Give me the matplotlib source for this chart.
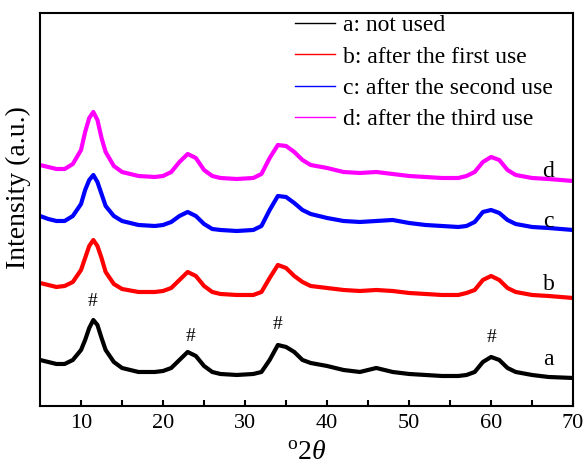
import numpy as np
import matplotlib
matplotlib.use("Agg")
import matplotlib.pyplot as plt

plt.rcParams['font.family'] = ['Liberation Serif', 'DejaVu Serif']
plt.rcParams['mathtext.fontset'] = 'custom'
plt.rcParams['mathtext.rm'] = 'Liberation Serif'
plt.rcParams['mathtext.it'] = 'Liberation Serif:italic'

# 2theta positions (degrees) where intensities were read
two_theta = [5, 6, 7, 8, 9, 10, 10.5, 11, 11.5, 12, 12.5, 13, 14, 15, 17, 19, 20, 21, 22, 23,
             24, 25, 26, 27, 29, 31, 32, 33, 34, 35, 36, 37, 38, 40, 42, 44, 46, 48, 50, 52,
             54, 56, 57, 58, 59, 60, 61, 62, 63, 65, 67, 70]

# stacked intensities (a.u., offset for display)
a_not_used = [46, 44, 42, 42, 46, 56, 66, 78, 86, 81, 68, 56, 44, 38, 34, 34, 35, 38, 46, 54,
              50, 40, 34, 32, 31, 32, 34, 46, 61, 59, 54, 46, 43, 40, 36, 34, 38, 34, 32, 31,
              30, 30, 31, 34, 44, 49, 46, 38, 34, 31, 29, 28]
b_first = [123, 121, 119, 120, 124, 136, 148, 160, 166, 160, 148, 134, 122, 117, 114, 114, 115, 118, 126, 134,
           130, 120, 114, 112, 111, 111, 114, 128, 141, 138, 130, 124, 120, 118, 116, 115, 116, 115, 113, 112,
           111, 111, 113, 116, 126, 130, 126, 118, 114, 111, 110, 108]
c_second = [190, 187, 185, 185, 190, 202, 216, 226, 231, 224, 212, 200, 190, 185, 181, 180, 181, 184, 190, 194,
            190, 182, 177, 176, 175, 176, 180, 196, 210, 209, 203, 196, 192, 188, 185, 184, 185, 186, 183, 181,
            180, 179, 180, 184, 194, 196, 193, 186, 182, 179, 178, 176]
d_third = [241, 239, 237, 237, 242, 256, 274, 288, 294, 286, 268, 254, 240, 234, 230, 229, 230, 234, 244, 252,
           248, 236, 230, 228, 227, 228, 232, 248, 261, 260, 254, 246, 241, 238, 234, 233, 234, 232, 230, 229,
           228, 228, 230, 234, 244, 249, 246, 236, 231, 228, 227, 225]

labels = ["a: not used", "b: after the first use", "c: after the second use", "d: after the third use"]
colors = ["black", "red", "blue", "magenta"]
curve_tags = ["a", "b", "c", "d"]
tag_y = [46, 121, 184, 234]

hash_x = [11.4, 23.3, 34.0, 60.1]
hash_y = [104, 69, 81, 68]

fig = plt.figure(figsize=(5.86, 4.66), dpi=100)
ax = fig.add_axes([0.0683, 0.1288, 0.9097, 0.8433])

for ys, c, lab in zip([a_not_used, b_first, c_second, d_third], colors, labels):
    ax.plot(two_theta, ys, color=c, lw=3, label=lab)

for t, y in zip(curve_tags, tag_y):
    ax.text(67.0, y, t, fontsize=17, ha='center', va='center')

for x, y in zip(hash_x, hash_y):
    ax.text(x, y, "#", fontsize=14, ha='center', va='center')

ax.set_xlim(5, 70)
ax.set_ylim(0, 393)
ax.set_xticks([10, 20, 30, 40, 50, 60, 70])
ax.set_xticks([15, 25, 35, 45, 55, 65], minor=True)
ax.set_yticks([])
ax.tick_params(axis='x', which='both', direction='in', length=4, width=1.5, labelsize=16, pad=6)
for s in ax.spines.values():
    s.set_linewidth(1.5)

ax.set_xlabel(r'$^{\rm o}2\mathit{\theta}$', fontsize=20, labelpad=5)
ax.set_ylabel("Intensity (a.u.)", fontsize=20)
ax.yaxis.set_label_coords(-0.016, 0.555)

leg = ax.legend(loc='upper left', bbox_to_anchor=(0.478, 0.995), frameon=False, fontsize=17,
                handlelength=1.7, handletextpad=0.35, labelspacing=0.41, borderaxespad=0, borderpad=0)
for h in leg.get_lines():
    h.set_linewidth(1.0)

fig.savefig("out.png", dpi=100)
